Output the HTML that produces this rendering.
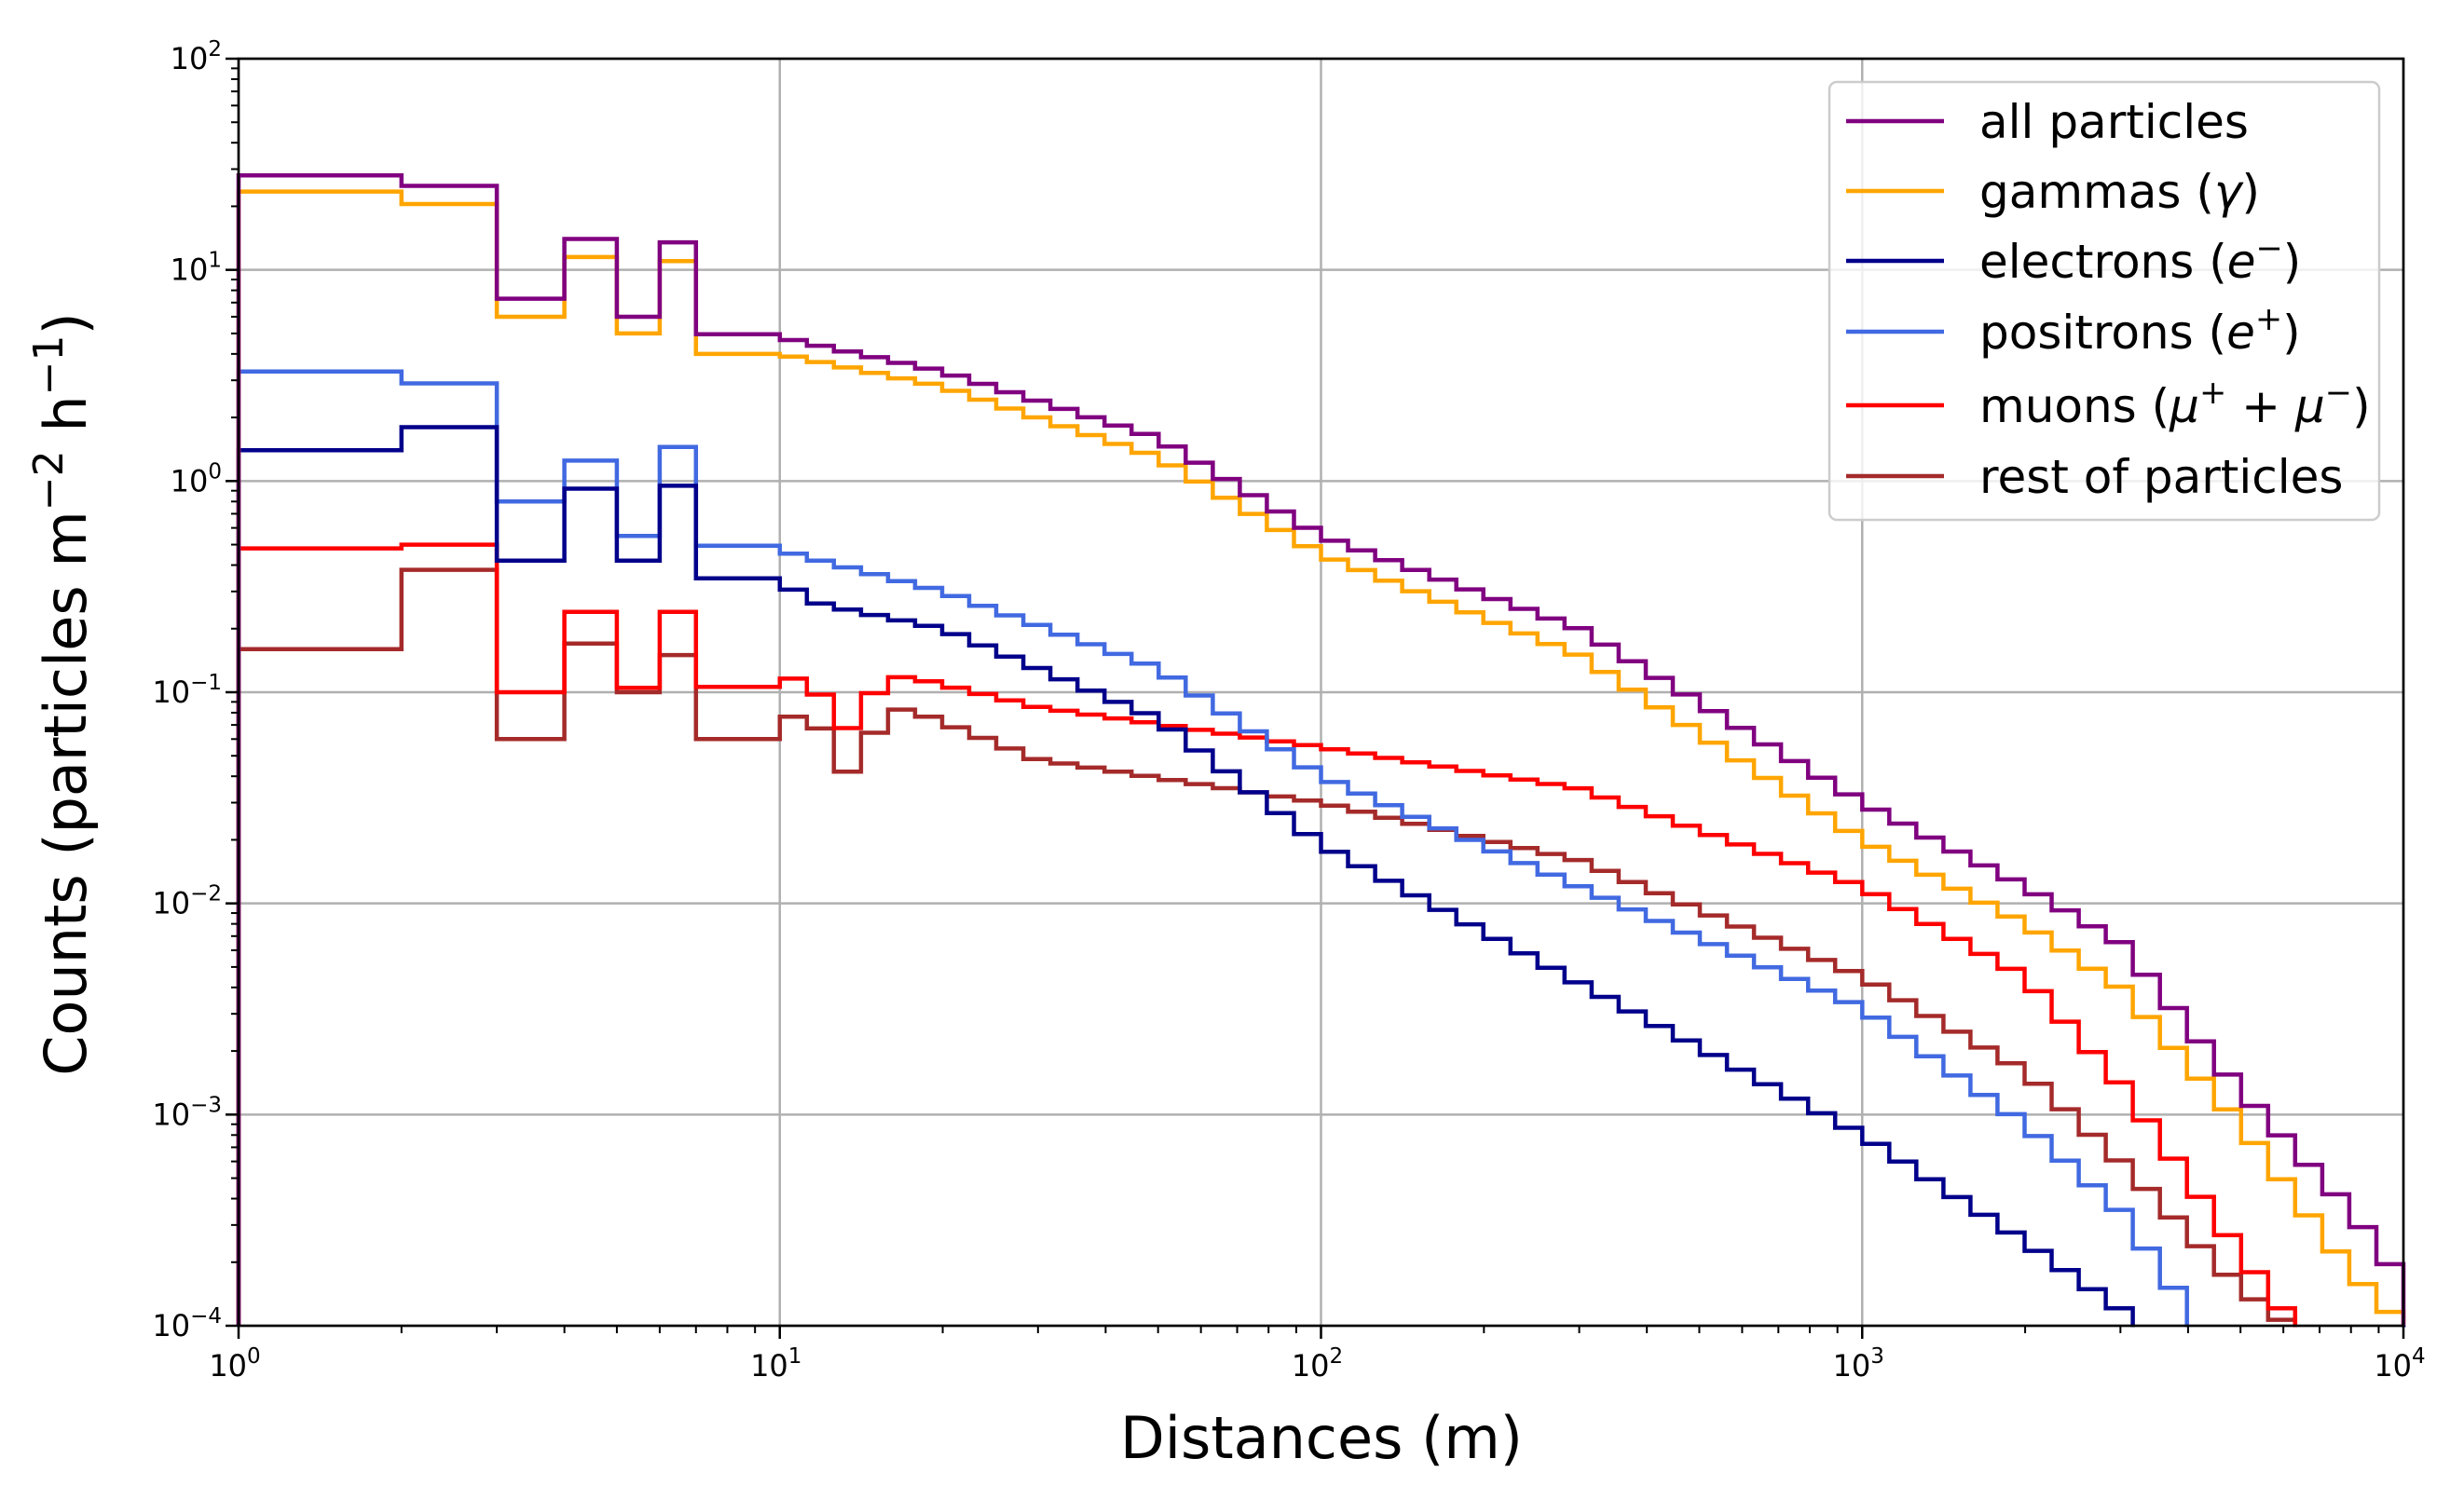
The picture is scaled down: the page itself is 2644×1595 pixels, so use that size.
<!DOCTYPE html>
<html><head><meta charset="utf-8"><style>
html,body{margin:0;padding:0;background:#fff;}
svg{display:block;font-family:"DejaVu Sans","Liberation Sans",sans-serif;}
</style></head><body>
<svg id="s" width="2644" height="1595" xmlns="http://www.w3.org/2000/svg">
<rect width="2644" height="1595" fill="#fff"/>
<g id="grid"></g>
<g id="series"></g>
<g id="axes"></g>
<g id="legend">
<rect x="1963" y="88" width="590" height="470" rx="8" fill="#fff" fill-opacity="0.8" stroke="#cccccc" stroke-width="2.5"/>
<line x1="1981" x2="2086" y1="130" y2="130" stroke="purple" stroke-width="4.5"/>
<line x1="1981" x2="2086" y1="205" y2="205" stroke="orange" stroke-width="4.5"/>
<line x1="1981" x2="2086" y1="280" y2="280" stroke="darkblue" stroke-width="4.5"/>
<line x1="1981" x2="2086" y1="356" y2="356" stroke="royalblue" stroke-width="4.5"/>
<line x1="1981" x2="2086" y1="435" y2="435" stroke="red" stroke-width="4.5"/>
<line x1="1981" x2="2086" y1="511" y2="511" stroke="brown" stroke-width="4.5"/>
<g font-size="50" fill="#000">
<text x="2124" y="148">all particles</text>
<text x="2124" y="223">gammas (<tspan font-style="italic">γ</tspan>)</text>
<text x="2124" y="298">electrons (<tspan font-style="italic">e</tspan><tspan font-size="35" dy="-20">−</tspan><tspan dy="20">)</tspan></text>
<text x="2124" y="374">positrons (<tspan font-style="italic">e</tspan><tspan font-size="35" dy="-20">+</tspan><tspan dy="20">)</tspan></text>
<text x="2124" y="453">muons (<tspan font-style="italic">μ</tspan><tspan font-size="35" dy="-20">+</tspan><tspan dy="20"> + </tspan><tspan font-style="italic">μ</tspan><tspan font-size="35" dy="-20">−</tspan><tspan dy="20">)</tspan></text>
<text x="2124" y="529">rest of particles</text>
</g>
</g>
<text x="1418" y="1565" font-size="62" text-anchor="middle">Distances (m)</text>
<text transform="translate(92,745) rotate(-90)" font-size="62" text-anchor="middle">Counts (particles m<tspan font-size="44" dy="-25">−2</tspan><tspan dy="25"> h</tspan><tspan font-size="44" dy="-25">−1</tspan><tspan dy="25">)</tspan></text>
</svg>
<script>
var L=256,R=2579,T=63,B=1423;
function X(v){return L+(Math.log10(v))*(R-L)/4;}
function Y(v){return T+(2-Math.log10(v))*(B-T)/6;}
var NS="http://www.w3.org/2000/svg";
function el(p,tag,a,txt){var e=document.createElementNS(NS,tag);for(var k in a)e.setAttribute(k,a[k]);if(txt!==undefined)e.textContent=txt;p.appendChild(e);return e;}
var grid=document.getElementById('grid'),axes=document.getElementById('axes'),ser=document.getElementById('series');
for(var d=1;d<4;d++){var x=X(Math.pow(10,d));el(grid,'line',{x1:x,x2:x,y1:T,y2:B,stroke:'#b0b0b0','stroke-width':2.5});}
for(var e=-3;e<2;e++){var y=Y(Math.pow(10,e));el(grid,'line',{x1:L,x2:R,y1:y,y2:y,stroke:'#b0b0b0','stroke-width':2.5});}
var first={
 all:[28,25,7.3,14,6,13.5],gam:[23.5,20.5,6.0,11.5,5,11],pos:[3.3,2.9,0.8,1.25,0.55,1.45],
 ele:[1.4,1.8,0.42,0.92,0.42,0.95],mu:[0.48,0.5,0.1,0.24,0.105,0.24],rest:[0.16,0.38,0.06,0.17,0.1,0.15]};
var pts={
 all:[[8,5],[10,4.8],[20,3.3],[50,1.6],[100,0.55],[300,0.2],[1000,0.03],[2000,0.012],[3000,0.0065],[5000,0.0013],[8000,0.00035],[10000,0.00016]],
 gam:[[8,4],[10,4.0],[20,2.8],[50,1.3],[100,0.45],[300,0.15],[1000,0.02],[2000,0.008],[3000,0.004],[5000,0.0009],[8000,0.00018],[10000,0.0001]],
 pos:[[8,0.5],[10,0.47],[20,0.3],[50,0.13],[100,0.04],[300,0.012],[1000,0.0032],[2000,0.0009],[3000,0.00035],[4000,0.00012],[5000,0.00004]],
 ele:[[8,0.35],[10,0.33],[12,0.26],[20,0.2],[50,0.075],[100,0.019],[300,0.0042],[1000,0.0008],[2000,0.00025],[3000,0.00012],[4000,0.00004]],
 mu:[[8,0.105],[10,0.11],[11,0.12],[12,0.095],[13.5,0.065],[15,0.1],[17,0.12],[30,0.085],[100,0.055],[300,0.035],[1000,0.012],[2000,0.0045],[3000,0.0014],[5000,0.00022],[6300,0.0001],[7000,0.00005]],
 rest:[[8,0.06],[10,0.06],[11,0.09],[12,0.065],[13.5,0.04],[15,0.065],[17,0.085],[30,0.048],[100,0.03],[300,0.016],[1000,0.0045],[2000,0.0016],[3000,0.0006],[5000,0.00015],[6500,0.00009],[7500,0.00004]]};
function interp(p,x){var lx=Math.log10(x);
 if(x<=p[0][0])return p[0][1];
 for(var i=1;i<p.length;i++){if(x<=p[i][0]){var a=Math.log10(p[i-1][0]),b=Math.log10(p[i][0]);var t=(lx-a)/(b-a);return Math.pow(10,Math.log10(p[i-1][1])*(1-t)+Math.log10(p[i][1])*t);}}
 return p[p.length-1][1];}
var edges=[1,2,3,4,5,6,7,10];
for(var k=1;k<=60;k++)edges.push(Math.pow(10,1+k/20));
var cols={all:'purple',gam:'orange',ele:'darkblue',pos:'royalblue',mu:'red',rest:'brown'};
['rest','mu','pos','ele','gam','all'].forEach(function(s){
 var vals=first[s].slice();
 for(var i=7;i<edges.length;i++){var c=Math.sqrt(edges[i-1]*edges[i]);vals.push(interp(pts[s],c));}
 var d='M'+X(1)+','+B;
 for(var i=0;i<vals.length;i++){var v=Math.max(vals[i],1e-4*0.5);var y=Math.min(Y(v),B+5);d+=' L'+X(edges[i]).toFixed(1)+','+y.toFixed(1)+' L'+X(edges[i+1]).toFixed(1)+','+y.toFixed(1);}
 d+=' L'+X(1e4)+','+B;
 el(ser,'path',{d:d,fill:'none',stroke:cols[s],'stroke-width':4.5,'stroke-linejoin':'miter'});
});
el(ser,'rect',{x:0,y:B+1.5,width:2644,height:200,fill:'#fff'});
el(axes,'rect',{x:L,y:T,width:R-L,height:B-T,fill:'none',stroke:'#000','stroke-width':2.7});
for(var d=0;d<=4;d++){var x=X(Math.pow(10,d));el(axes,'line',{x1:x,x2:x,y1:B,y2:B+14,stroke:'#000','stroke-width':2.5});
 var t=el(axes,'text',{x:x-4,y:B+54,'font-size':32,'text-anchor':'middle'},'10');
 el(t,'tspan',{'font-size':23,dy:-14},String(d));
 if(d<4)for(var m=2;m<10;m++){var xm=X(m*Math.pow(10,d));el(axes,'line',{x1:xm,x2:xm,y1:B,y2:B+8,stroke:'#000','stroke-width':2});}}
for(var e=-4;e<=2;e++){var y=Y(Math.pow(10,e));el(axes,'line',{x1:L-14,x2:L,y1:y,y2:y,stroke:'#000','stroke-width':2.5});
 var t=el(axes,'text',{x:L-18,y:y+11,'font-size':32,'text-anchor':'end'});
 t.appendChild(document.createTextNode('10'));
 el(t,'tspan',{'font-size':23,dy:-14},e<0?'−'+(-e):String(e));
 if(e<2)for(var m=2;m<10;m++){var ym=Y(m*Math.pow(10,e));el(axes,'line',{x1:L-8,x2:L,y1:ym,y2:ym,stroke:'#000','stroke-width':2});}}
</script>
</body></html>
